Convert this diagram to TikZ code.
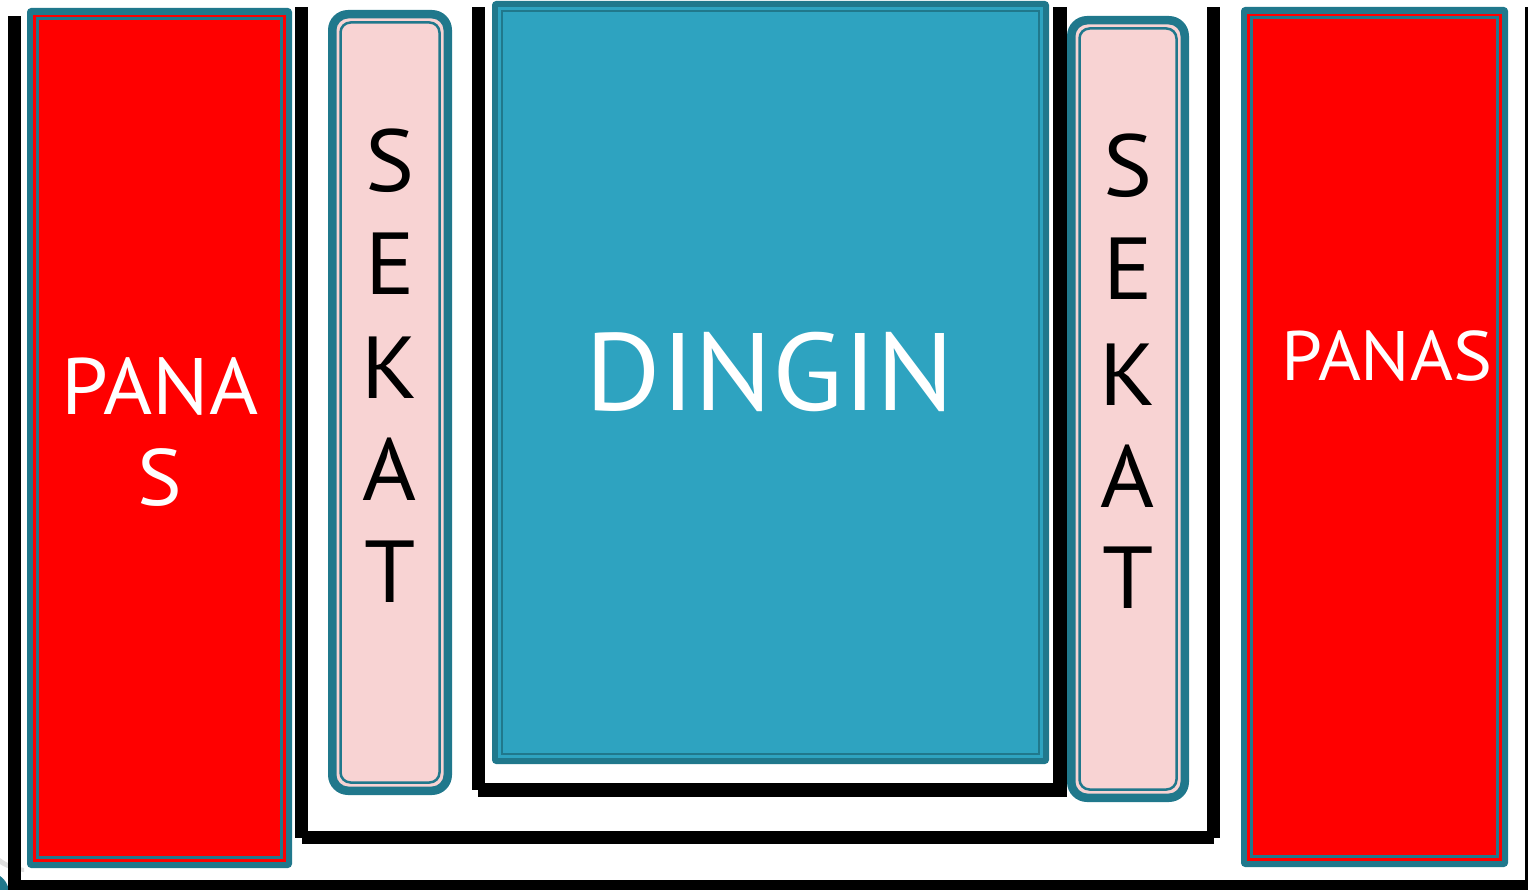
\documentclass[tikz,border=0pt]{standalone}
\usepackage{fontspec}
\setmainfont{PT Sans}[FakeStretch=1.05]
\definecolor{tealdark}{HTML}{20788C}
\definecolor{dingin}{HTML}{2EA3C0}
\definecolor{sekatpink}{HTML}{F8D3D3}
\definecolor{panasred}{HTML}{FF0000}
\tikzset{
  blackbar/.style={fill=black},
  bandfill/.style={fill=tealdark},
  innerline/.style={draw=tealdark, line width=2.5pt},
  panastext/.style={text=white, inner sep=0pt, anchor=base, font=\fontsize{80}{80}\selectfont},
  sekattext/.style={text=black, inner sep=0pt, anchor=base, font=\fontsize{88}{88}\selectfont},
}
\begin{document}
\begin{tikzpicture}[x=1pt,y=-1pt]
\useasboundingbox (0,0) rectangle (1528,890);
\fill[white] (0,0) rectangle (1528,890);
% small fragment at the bottom-left corner
\fill[black!12] (0,858) .. controls (8,864) and (14,866) .. (24,868) -- (24,872) .. controls (14,871) and (6,868) .. (0,864) -- cycle;
\fill[tealdark] (0,876) .. controls (4,879) and (7,882) .. (9,890) -- (0,890) -- cycle;
% outer frame
\fill[blackbar] (8,16) rectangle (21,890);
\fill[blackbar] (8,880) rectangle (1528,890);
\fill[blackbar] (1525,7) rectangle (1528,890);
% outer U
\fill[blackbar] (295,7) rectangle (308,838);
\fill[blackbar] (302,831) rectangle (1214,844);
\fill[blackbar] (1207,7) rectangle (1220,838);
% inner U
\fill[blackbar] (472,7) rectangle (485,790);
\fill[blackbar] (478,783) rectangle (1067,797);
\fill[blackbar] (1053,7) rectangle (1067,797);
% left PANAS
\fill[bandfill, rounded corners=4pt] (27,8) rectangle (292,868);
\fill[panasred] (33,15) rectangle (286,862);
\draw[innerline] (37.5,18.5) rectangle (281.5,857.5);
% right PANAS
\fill[bandfill, rounded corners=4pt] (1241,7) rectangle (1508,867);
\fill[panasred] (1247,14) rectangle (1502,861);
\draw[innerline] (1251.5,17.5) rectangle (1497.5,856.5);
% left SEKAT
\fill[bandfill, rounded corners=20pt] (328,10) rectangle (452,795);
\fill[sekatpink, rounded corners=12pt] (336.5,18.5) rectangle (443.5,786.5);
\draw[innerline, rounded corners=10pt] (340.5,22.5) rectangle (439.5,782.5);
% right SEKAT
\fill[bandfill, rounded corners=20pt] (1067,16) rectangle (1189,802);
\fill[sekatpink, rounded corners=12pt] (1075.5,24.5) rectangle (1180.5,793.5);
\draw[innerline, rounded corners=10pt] (1079.5,28.5) rectangle (1176.5,789.5);
% DINGIN
\fill[bandfill, rounded corners=4pt] (492,1) rectangle (1049,764);
\fill[dingin] (498,7) rectangle (1043,758);
\draw[innerline] (502,11) rectangle (1039,754);
% texts
\node[panastext] (pana) at (160,414) {PANA};
\node[panastext] (panas) at (160,505) {S};
\node[panastext, font=\fontsize{70}{70}\selectfont] (panasR) at (1387,380) {PANAS};
\node[panastext, font=\fontsize{110}{110}\selectfont] (dingintxt) at (770,410) {DINGIN};
\foreach \l/\yl/\yr [count=\i] in {S/192/197, E/295/300, K/398/405, A/500/507, T/602/608} {
  \node[sekattext] (sekL\i) at (390,\yl) {\l};
  \node[sekattext] (sekR\i) at (1128,\yr) {\l};
}
\end{tikzpicture}
\end{document}
